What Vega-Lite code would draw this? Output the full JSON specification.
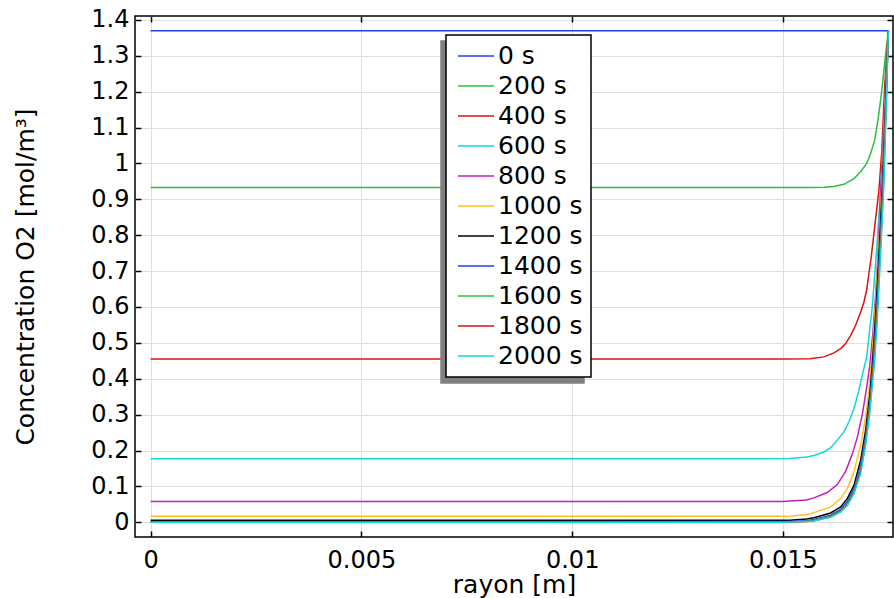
{
  "$schema": "https://vega.github.io/schema/vega-lite/v6.json",
  "width": 758,
  "height": 521,
  "autosize": "none",
  "padding": {"left": 135, "top": 16, "right": 1, "bottom": 61},
  "background": "white",
  "title": {"text": "(a)", "fontSize": 25, "font": "DejaVu Sans", "fontWeight": "normal", "anchor": "middle", "dx": -59, "offset": -6, "baseline": "bottom", "color": "black"},
  "config": {
    "font": "DejaVu Sans",
    "view": {"stroke": "black", "strokeWidth": 1.5},
    "legend": {"strokeWidth": 1.5},
    "axis": {"labelFont": "DejaVu Sans", "titleFont": "DejaVu Sans", "labelFontSize": 24, "titleFontSize": 25, "titleFontWeight": "normal", "labelColor": "black", "titleColor": "black", "tickColor": "black", "tickWidth": 1.5, "gridColor": "#dedede", "gridWidth": 1, "domain": false}
  },
  "datasets": {
    "d": [
      {"t":"0 s","r":0,"c":1.37},{"t":"0 s","r":0.0175,"c":1.37},
      {"t":"200 s","r":0,"c":0.933},{"t":"200 s","r":0.008,"c":0.933},{"t":"200 s","r":0.015,"c":0.933},{"t":"200 s","r":0.01564,"c":0.933},{"t":"200 s","r":0.015972,"c":0.934},{"t":"200 s","r":0.01621,"c":0.936},{"t":"200 s","r":0.016447,"c":0.942},{"t":"200 s","r":0.016684,"c":0.958},{"t":"200 s","r":0.016843,"c":0.977},{"t":"200 s","r":0.016985,"c":1.0},{"t":"200 s","r":0.01708,"c":1.028},{"t":"200 s","r":0.017175,"c":1.065},{"t":"200 s","r":0.017253,"c":1.121},{"t":"200 s","r":0.017317,"c":1.177},{"t":"200 s","r":0.017372,"c":1.233},{"t":"200 s","r":0.017419,"c":1.288},{"t":"200 s","r":0.0175,"c":1.37},
      {"t":"400 s","r":0,"c":0.455},{"t":"400 s","r":0.008,"c":0.455},{"t":"400 s","r":0.015,"c":0.455},{"t":"400 s","r":0.01564,"c":0.456},{"t":"400 s","r":0.015972,"c":0.461},{"t":"400 s","r":0.01621,"c":0.472},{"t":"400 s","r":0.016369,"c":0.484},{"t":"400 s","r":0.016487,"c":0.498},{"t":"400 s","r":0.016606,"c":0.521},{"t":"400 s","r":0.016724,"c":0.549},{"t":"400 s","r":0.016843,"c":0.586},{"t":"400 s","r":0.016921,"c":0.614},{"t":"400 s","r":0.016985,"c":0.647},{"t":"400 s","r":0.01704,"c":0.694},{"t":"400 s","r":0.017094,"c":0.74},{"t":"400 s","r":0.017158,"c":0.805},{"t":"400 s","r":0.017222,"c":0.87},{"t":"400 s","r":0.017277,"c":0.926},{"t":"400 s","r":0.017341,"c":1.028},{"t":"400 s","r":0.017412,"c":1.214},{"t":"400 s","r":0.0175,"c":1.37},
      {"t":"600 s","r":0,"c":0.177},{"t":"600 s","r":0.008,"c":0.177},{"t":"600 s","r":0.0145,"c":0.177},{"t":"600 s","r":0.015166,"c":0.178},{"t":"600 s","r":0.015562,"c":0.182},{"t":"600 s","r":0.015735,"c":0.186},{"t":"600 s","r":0.015972,"c":0.196},{"t":"600 s","r":0.016131,"c":0.208},{"t":"600 s","r":0.016288,"c":0.229},{"t":"600 s","r":0.016447,"c":0.252},{"t":"600 s","r":0.016565,"c":0.28},{"t":"600 s","r":0.016684,"c":0.317},{"t":"600 s","r":0.016802,"c":0.368},{"t":"600 s","r":0.016881,"c":0.41},{"t":"600 s","r":0.016985,"c":0.46},{"t":"600 s","r":0.017118,"c":0.6},{"t":"600 s","r":0.017237,"c":0.786},{"t":"600 s","r":0.017317,"c":0.926},{"t":"600 s","r":0.017412,"c":1.15},{"t":"600 s","r":0.0175,"c":1.37},
      {"t":"800 s","r":0,"c":0.058},{"t":"800 s","r":0.008,"c":0.058},{"t":"800 s","r":0.015,"c":0.058},{"t":"800 s","r":0.015166,"c":0.059},{"t":"800 s","r":0.015562,"c":0.062},{"t":"800 s","r":0.015735,"c":0.068},{"t":"800 s","r":0.016051,"c":0.083},{"t":"800 s","r":0.016288,"c":0.105},{"t":"800 s","r":0.016487,"c":0.142},{"t":"800 s","r":0.016644,"c":0.19},{"t":"800 s","r":0.016762,"c":0.236},{"t":"800 s","r":0.016881,"c":0.3},{"t":"800 s","r":0.016985,"c":0.375},{"t":"800 s","r":0.017063,"c":0.44},{"t":"800 s","r":0.017135,"c":0.53},{"t":"800 s","r":0.017206,"c":0.65},{"t":"800 s","r":0.017265,"c":0.77},{"t":"800 s","r":0.017317,"c":0.92},{"t":"800 s","r":0.017419,"c":1.15},{"t":"800 s","r":0.0175,"c":1.37},
      {"t":"1000 s","r":0,"c":0.0167},{"t":"1000 s","r":0.008,"c":0.0167},{"t":"1000 s","r":0.015,"c":0.0168},{"t":"1000 s","r":0.015166,"c":0.0175},{"t":"1000 s","r":0.015562,"c":0.021},{"t":"1000 s","r":0.015735,"c":0.027},{"t":"1000 s","r":0.016131,"c":0.043},{"t":"1000 s","r":0.016369,"c":0.066},{"t":"1000 s","r":0.016525,"c":0.094},{"t":"1000 s","r":0.016684,"c":0.14},{"t":"1000 s","r":0.016843,"c":0.215},{"t":"1000 s","r":0.016961,"c":0.294},{"t":"1000 s","r":0.01704,"c":0.368},{"t":"1000 s","r":0.017104,"c":0.452},{"t":"1000 s","r":0.01717,"c":0.56},{"t":"1000 s","r":0.01723,"c":0.68},{"t":"1000 s","r":0.017289,"c":0.8},{"t":"1000 s","r":0.017343,"c":0.93},{"t":"1000 s","r":0.017424,"c":1.15},{"t":"1000 s","r":0.0175,"c":1.37},
      {"t":"1200 s","r":0,"c":0.0055},{"t":"1200 s","r":0.008,"c":0.0055},{"t":"1200 s","r":0.015,"c":0.0057},{"t":"1200 s","r":0.015166,"c":0.006},{"t":"1200 s","r":0.015562,"c":0.009},{"t":"1200 s","r":0.015735,"c":0.0125},{"t":"1200 s","r":0.016131,"c":0.026},{"t":"1200 s","r":0.016369,"c":0.043},{"t":"1200 s","r":0.016525,"c":0.066},{"t":"1200 s","r":0.016684,"c":0.103},{"t":"1200 s","r":0.016843,"c":0.173},{"t":"1200 s","r":0.016961,"c":0.257},{"t":"1200 s","r":0.017063,"c":0.359},{"t":"1200 s","r":0.017127,"c":0.452},{"t":"1200 s","r":0.017189,"c":0.56},{"t":"1200 s","r":0.017246,"c":0.68},{"t":"1200 s","r":0.017301,"c":0.8},{"t":"1200 s","r":0.017355,"c":0.93},{"t":"1200 s","r":0.017431,"c":1.15},{"t":"1200 s","r":0.0175,"c":1.37},
      {"t":"1400 s","r":0,"c":0.0018},{"t":"1400 s","r":0.008,"c":0.0018},{"t":"1400 s","r":0.015,"c":0.0019},{"t":"1400 s","r":0.015166,"c":0.0022},{"t":"1400 s","r":0.015562,"c":0.0045},{"t":"1400 s","r":0.015735,"c":0.0075},{"t":"1400 s","r":0.016131,"c":0.02},{"t":"1400 s","r":0.016369,"c":0.036},{"t":"1400 s","r":0.016525,"c":0.057},{"t":"1400 s","r":0.016684,"c":0.093},{"t":"1400 s","r":0.016843,"c":0.16},{"t":"1400 s","r":0.016961,"c":0.24},{"t":"1400 s","r":0.017063,"c":0.34},{"t":"1400 s","r":0.017142,"c":0.452},{"t":"1400 s","r":0.017206,"c":0.56},{"t":"1400 s","r":0.01726,"c":0.68},{"t":"1400 s","r":0.017313,"c":0.8},{"t":"1400 s","r":0.017365,"c":0.93},{"t":"1400 s","r":0.017436,"c":1.15},{"t":"1400 s","r":0.0175,"c":1.37},
      {"t":"1600 s","r":0,"c":0.0006},{"t":"1600 s","r":0.008,"c":0.0006},{"t":"1600 s","r":0.015,"c":0.0007},{"t":"1600 s","r":0.015166,"c":0.001},{"t":"1600 s","r":0.015562,"c":0.003},{"t":"1600 s","r":0.015735,"c":0.0055},{"t":"1600 s","r":0.016131,"c":0.017},{"t":"1600 s","r":0.016369,"c":0.032},{"t":"1600 s","r":0.016525,"c":0.052},{"t":"1600 s","r":0.016684,"c":0.087},{"t":"1600 s","r":0.016843,"c":0.15},{"t":"1600 s","r":0.016961,"c":0.23},{"t":"1600 s","r":0.017063,"c":0.33},{"t":"1600 s","r":0.017154,"c":0.452},{"t":"1600 s","r":0.017215,"c":0.56},{"t":"1600 s","r":0.01727,"c":0.68},{"t":"1600 s","r":0.017322,"c":0.8},{"t":"1600 s","r":0.017372,"c":0.93},{"t":"1600 s","r":0.017441,"c":1.15},{"t":"1600 s","r":0.0175,"c":1.37},
      {"t":"1800 s","r":0,"c":0.0002},{"t":"1800 s","r":0.008,"c":0.0002},{"t":"1800 s","r":0.015,"c":0.0003},{"t":"1800 s","r":0.015166,"c":0.0006},{"t":"1800 s","r":0.015562,"c":0.0025},{"t":"1800 s","r":0.015735,"c":0.0045},{"t":"1800 s","r":0.016131,"c":0.015},{"t":"1800 s","r":0.016369,"c":0.03},{"t":"1800 s","r":0.016525,"c":0.049},{"t":"1800 s","r":0.016684,"c":0.083},{"t":"1800 s","r":0.016843,"c":0.143},{"t":"1800 s","r":0.016961,"c":0.222},{"t":"1800 s","r":0.017063,"c":0.32},{"t":"1800 s","r":0.017163,"c":0.452},{"t":"1800 s","r":0.017225,"c":0.56},{"t":"1800 s","r":0.017277,"c":0.68},{"t":"1800 s","r":0.017329,"c":0.8},{"t":"1800 s","r":0.017379,"c":0.93},{"t":"1800 s","r":0.017443,"c":1.15},{"t":"1800 s","r":0.0175,"c":1.37},
      {"t":"2000 s","r":0,"c":0.0001},{"t":"2000 s","r":0.008,"c":0.0001},{"t":"2000 s","r":0.015,"c":0.0002},{"t":"2000 s","r":0.015166,"c":0.0005},{"t":"2000 s","r":0.015562,"c":0.002},{"t":"2000 s","r":0.015735,"c":0.004},{"t":"2000 s","r":0.016131,"c":0.014},{"t":"2000 s","r":0.016369,"c":0.029},{"t":"2000 s","r":0.016525,"c":0.047},{"t":"2000 s","r":0.016684,"c":0.08},{"t":"2000 s","r":0.016843,"c":0.136},{"t":"2000 s","r":0.016961,"c":0.215},{"t":"2000 s","r":0.017063,"c":0.31},{"t":"2000 s","r":0.017175,"c":0.452},{"t":"2000 s","r":0.017234,"c":0.56},{"t":"2000 s","r":0.017287,"c":0.68},{"t":"2000 s","r":0.017336,"c":0.8},{"t":"2000 s","r":0.017389,"c":0.93},{"t":"2000 s","r":0.017448,"c":1.15},{"t":"2000 s","r":0.0175,"c":1.37}
    ]
  },
  "layer": [
    {
      "data": {"name": "d"},
      "transform": [{"filter": "false"}],
      "mark": {"type": "line", "strokeWidth": 1.5},
      "encoding": {
        "x": {"field": "r", "type": "quantitative", "scale": {"domain": [-0.00037, 0.01761], "nice": false, "zero": false}, "axis": {"orient": "top", "values": [0, 0.005, 0.01, 0.015], "labels": false, "title": null, "grid": false, "tickSize": -6}},
        "y": {"field": "c", "type": "quantitative", "scale": {"domain": [-0.041, 1.411], "nice": false, "zero": false}, "axis": {"orient": "right", "values": [0, 0.1, 0.2, 0.3, 0.4, 0.5, 0.6, 0.7, 0.8, 0.9, 1, 1.1, 1.2, 1.3, 1.4], "labels": false, "title": null, "grid": false, "tickSize": -6}},
        "stroke": {"field": "t", "type": "nominal", "scale": {"domain": ["0 s","200 s","400 s","600 s","800 s","1000 s","1200 s","1400 s","1600 s","1800 s","2000 s"], "range": ["#1f3ff0","#2fbf3f","#e01010","#10d8d8","#c020c0","#ffc020","#000000","#1f3ff0","#2fbf3f","#e01010","#10d8d8"]},
          "legend": {"orient": "none", "legendX": 306, "legendY": 25, "title": null, "padding": 8, "fillColor": "#808080", "strokeColor": "#808080", "symbolType": "M-1.5,0H1.5", "symbolSize": 576, "symbolStrokeWidth": 1.5, "symbolOffset": 9, "symbolOpacity": 0, "labelExpr": "''", "labelFontSize": 25, "labelFont": "DejaVu Sans", "labelColor": "#808080", "labelOffset": 92, "rowPadding": 4, "labelLimit": 300}}
      }
    },
    {
      "data": {"name": "d"},
      "mark": {"type": "line", "strokeWidth": 1.5},
      "encoding": {
        "x": {"field": "r", "type": "quantitative", "axis": {"orient": "bottom", "values": [0, 0.005, 0.01, 0.015], "labelExpr": "format(datum.value, '~g')", "title": "rayon [m]", "grid": true, "tickSize": -6, "labelPadding": 17, "titlePadding": 0}},
        "y": {"field": "c", "type": "quantitative", "axis": {"orient": "left", "values": [0, 0.1, 0.2, 0.3, 0.4, 0.5, 0.6, 0.7, 0.8, 0.9, 1, 1.1, 1.2, 1.3, 1.4], "labelExpr": "format(datum.value, '~g')", "title": "Concentration O2 [mol/m³]", "grid": true, "tickSize": -6, "labelPadding": 12, "titlePadding": 52}},
        "stroke": {"field": "t", "type": "nominal", "scale": {"domain": ["0 s","200 s","400 s","600 s","800 s","1000 s","1200 s","1400 s","1600 s","1800 s","2000 s"], "range": ["#1f3ff0","#2fbf3f","#e01010","#10d8d8","#c020c0","#ffc020","#000000","#1f3ff0","#2fbf3f","#e01010","#10d8d8"]},
          "legend": {"orient": "none", "legendX": 311, "legendY": 19, "title": null, "padding": 8, "fillColor": "white", "strokeColor": "black", "symbolType": "M-1.5,0H1.5", "symbolSize": 576, "symbolStrokeWidth": 1.5, "symbolOffset": 9, "labelFontSize": 25, "labelFont": "DejaVu Sans", "labelColor": "black", "labelOffset": 9, "rowPadding": 4, "labelLimit": 300}}
      }
    }
  ],
  "resolve": {"scale": {"stroke": "independent"}, "axis": {"x": "independent", "y": "independent"}}
}
